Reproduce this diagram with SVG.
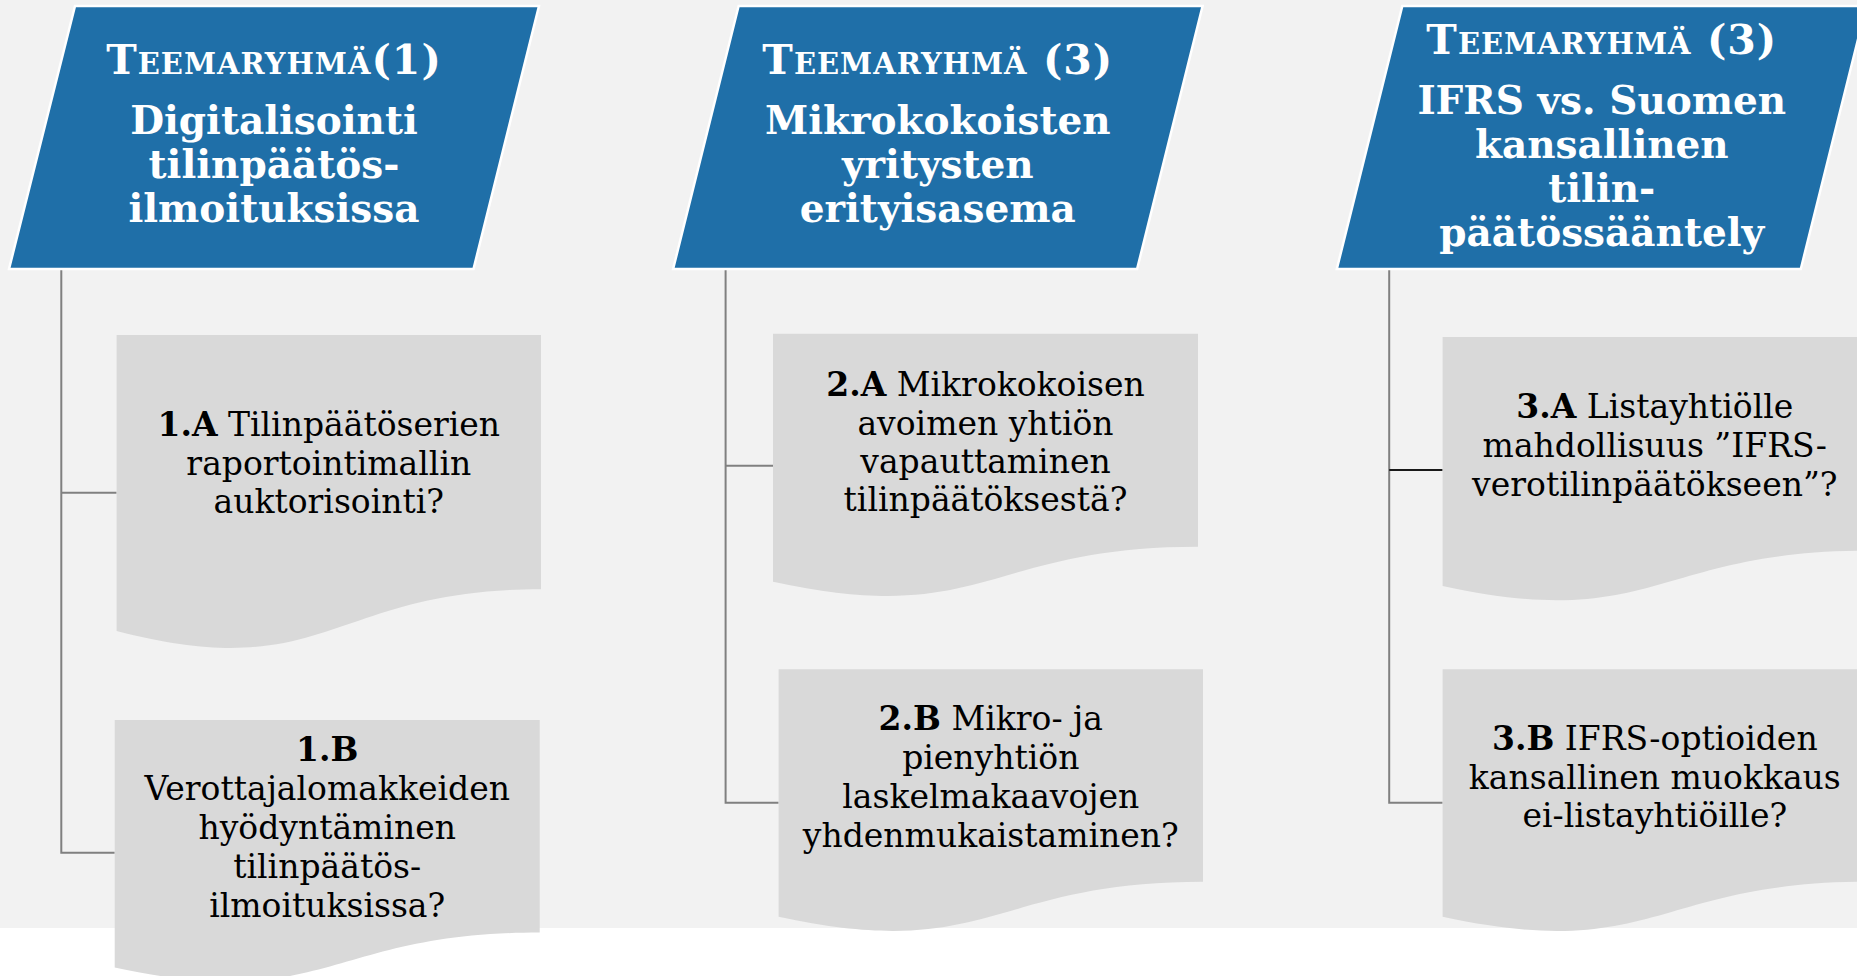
<svg xmlns="http://www.w3.org/2000/svg" width="1857" height="976" viewBox="0 0 1857 976">
<style>
.bg{fill:#f2f2f2}
.para{fill:#1f6fa8;stroke:#ffffff;stroke-width:2.5}
.doc{fill:#d9d9d9}
.conn{fill:none;stroke:#808080;stroke-width:2}
.conn-dark{fill:none;stroke:#1a1a1a;stroke-width:2}
.title{font-family:"DejaVu Serif","Liberation Serif",serif;font-weight:bold;fill:#ffffff;text-anchor:middle;font-size:39px}
.cap{font-size:41px}
.sc{font-size:29px}
.body{font-family:"DejaVu Serif","Liberation Serif",serif;fill:#000000;text-anchor:middle;font-size:33px}
.b{font-weight:bold}
</style>
<rect x="0" y="0" width="1857" height="976" fill="#ffffff"/>
<rect class="bg" x="0" y="0" width="1857" height="928"/>

<g id="connectors">
  <path class="conn" d="M61.3,270 V852.7 H114.7"/>
  <path class="conn" d="M61.3,492.7 H116.6"/>
  <path class="conn" d="M725.6,270 V802.7 H778.6"/>
  <path class="conn" d="M725.6,465.7 H773"/>
  <path class="conn" d="M1389.2,270 V802.7 H1442.6"/>
  <path class="conn-dark" d="M1389.2,470 H1442.6"/>
</g>

<g id="theme1">
  <path class="para" d="M75,6 L539,6 L473.5,269 L9,269 Z"/>
  <text class="title" x="274" y="74" letter-spacing="1"><tspan class="cap">T</tspan><tspan class="sc">EEMARYHMÄ</tspan><tspan class="cap">(1)</tspan></text>
  <text class="title" x="274" y="134">Digitalisointi</text>
  <text class="title" x="274" y="178">tilinpäätös-</text>
  <text class="title" x="274" y="222">ilmoituksissa</text>
</g>

<g id="theme2">
  <path class="para" d="M738.6,6 L1202.6,6 L1137.1,269 L673.1,269 Z"/>
  <text class="title" x="937.8" y="74" letter-spacing="1"><tspan class="cap">T</tspan><tspan class="sc">EEMARYHMÄ</tspan><tspan class="cap"> (3)</tspan></text>
  <text class="title" x="937.8" y="134">Mikrokokoisten</text>
  <text class="title" x="937.8" y="178">yritysten</text>
  <text class="title" x="937.8" y="222">erityisasema</text>
</g>

<g id="theme3">
  <path class="para" d="M1402.3,6 L1866.3,6 L1800.8,269 L1336.8,269 Z"/>
  <text class="title" x="1601.8" y="54" letter-spacing="1"><tspan class="cap">T</tspan><tspan class="sc">EEMARYHMÄ</tspan><tspan class="cap"> (3)</tspan></text>
  <text class="title" x="1601.8" y="114">IFRS vs. Suomen</text>
  <text class="title" x="1601.8" y="158">kansallinen</text>
  <text class="title" x="1601.8" y="202">tilin-</text>
  <text class="title" x="1601.8" y="246">päätössääntely</text>
</g>

<g id="q1A">
  <path class="doc" d="M116.6,335 H541 V589.2 C328.8,589.2 328.8,686.1 116.6,631 Z"/>
  <text class="body" x="328.8" y="436"><tspan class="b">1.A</tspan> Tilinpäätöserien</text>
  <text class="body" x="328.8" y="474.5">raportointimallin</text>
  <text class="body" x="328.8" y="513">auktorisointi?</text>
</g>

<g id="q1B">
  <path class="doc" d="M114.7,720 H539.7 V932.5 C327.2,932.5 327.2,1013.5 114.7,967.5 Z"/>
  <text class="body b" x="327.2" y="761">1.B</text>
  <text class="body" x="327.2" y="800">Verottajalomakkeiden</text>
  <text class="body" x="327.2" y="838.5">hyödyntäminen</text>
  <text class="body" x="327.2" y="877.5">tilinpäätös-</text>
  <text class="body" x="327.2" y="916.5">ilmoituksissa?</text>
</g>

<g id="q2A">
  <path class="doc" d="M773,333.7 H1198 V546.7 C985.5,546.7 985.5,627.9 773,581.7 Z"/>
  <text class="body" x="985.5" y="396"><tspan class="b">2.A</tspan> Mikrokokoisen</text>
  <text class="body" x="985.5" y="434.5">avoimen yhtiön</text>
  <text class="body" x="985.5" y="473">vapauttaminen</text>
  <text class="body" x="985.5" y="511">tilinpäätöksestä?</text>
</g>

<g id="q2B">
  <path class="doc" d="M778.6,669.3 H1203 V881.8 C990.8,881.8 990.8,962.8 778.6,916.8 Z"/>
  <text class="body" x="990.8" y="730"><tspan class="b">2.B</tspan> Mikro- ja</text>
  <text class="body" x="990.8" y="769">pienyhtiön</text>
  <text class="body" x="990.8" y="808">laskelmakaavojen</text>
  <text class="body" x="990.8" y="846.5">yhdenmukaistaminen?</text>
</g>

<g id="q3A">
  <path class="doc" d="M1442.6,337 H1867 V550.8 C1654.8,550.8 1654.8,632.3 1442.6,586 Z"/>
  <text class="body" x="1654.8" y="418"><tspan class="b">3.A</tspan> Listayhtiölle</text>
  <text class="body" x="1654.8" y="457">mahdollisuus ”IFRS-</text>
  <text class="body" x="1654.8" y="495.5">verotilinpäätökseen”?</text>
</g>

<g id="q3B">
  <path class="doc" d="M1442.6,669.3 H1867 V881.8 C1654.8,881.8 1654.8,962.8 1442.6,916.8 Z"/>
  <text class="body" x="1654.8" y="750"><tspan class="b">3.B</tspan> IFRS-optioiden</text>
  <text class="body" x="1654.8" y="788.5">kansallinen muokkaus</text>
  <text class="body" x="1654.8" y="827">ei-listayhtiöille?</text>
</g>
</svg>
